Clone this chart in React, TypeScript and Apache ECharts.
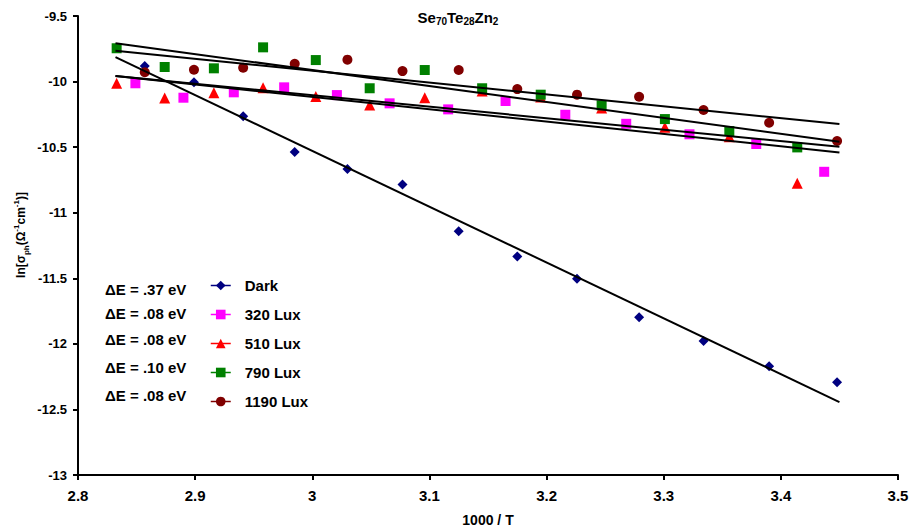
import React, { useEffect, useRef } from "react";
import * as echarts from "echarts";

const FONT = "Arial, 'Liberation Sans', Helvetica, sans-serif";

// Data (x = 1000/T, y = ln sigma_ph)
const darkX = [2.857, 2.899, 2.941, 2.985, 3.03, 3.077, 3.125, 3.175, 3.226, 3.279, 3.334, 3.39, 3.448];
const darkY = [-9.881, -10.006, -10.265, -10.537, -10.667, -10.784, -11.142, -11.333, -11.504, -11.798, -11.979, -12.17, -12.292];

const lux320X = [2.849, 2.89, 2.933, 2.976, 3.021, 3.066, 3.116, 3.165, 3.216, 3.268, 3.322, 3.379, 3.437];
const lux320Y = [-10.013, -10.123, -10.082, -10.044, -10.103, -10.166, -10.212, -10.148, -10.253, -10.322, -10.402, -10.476, -10.688];

const lux510X = [2.833, 2.874, 2.916, 2.958, 3.003, 3.049, 3.096, 3.145, 3.195, 3.247, 3.301, 3.356, 3.414];
const lux510Y = [-10.013, -10.125, -10.085, -10.047, -10.113, -10.179, -10.123, -10.072, -10.118, -10.202, -10.349, -10.421, -10.776];

const lux790X = [2.833, 2.874, 2.916, 2.958, 3.003, 3.049, 3.096, 3.145, 3.195, 3.247, 3.301, 3.356, 3.414];
const lux790Y = [-9.746, -9.889, -9.899, -9.739, -9.836, -10.051, -9.912, -10.051, -10.1, -10.181, -10.286, -10.377, -10.502];

const lux1190X = [2.857, 2.899, 2.941, 2.985, 3.03, 3.077, 3.125, 3.175, 3.226, 3.279, 3.334, 3.39, 3.448];
const lux1190Y = [-9.929, -9.91, -9.894, -9.864, -9.833, -9.92, -9.912, -10.057, -10.1, -10.116, -10.217, -10.314, -10.453];

// Linear fit lines (end points)
const fitX = [2.832, 3.45];
const fitDarkY = [-9.813, -12.444];
const fit320Y = [-9.958, -10.54];
const fit510Y = [-9.958, -10.497];
const fit790Y = [-9.708, -10.459];
const fit1190Y = [-9.765, -10.324];

const seriesNames = ["Dark", "320 Lux", "510 Lux", "790 Lux", "1190 Lux"];
const activationEnergies = [".37", ".08", ".08", ".10", ".08"];

const fmt = (v: number) => String(+Number(v).toFixed(2));

export default function App() {
  const ref = useRef<HTMLDivElement>(null);

  useEffect(() => {
    if (!ref.current) return;
    const chart = echarts.init(ref.current, undefined, { renderer: "svg" });

    const dataSets = [
      { name: seriesNames[0], x: darkX, y: darkY, color: "#000080", symbol: "diamond", size: 10 },
      { name: seriesNames[1], x: lux320X, y: lux320Y, color: "#FF00FF", symbol: "rect", size: 10 },
      { name: seriesNames[2], x: lux510X, y: lux510Y, color: "#FF0000", symbol: "triangle", size: 11 },
      { name: seriesNames[3], x: lux790X, y: lux790Y, color: "#008000", symbol: "rect", size: 10 },
      { name: seriesNames[4], x: lux1190X, y: lux1190Y, color: "#800000", symbol: "circle", size: 10 },
    ];
    const fits = [
      { name: "Dark fit", y: fitDarkY },
      { name: "320 Lux fit", y: fit320Y },
      { name: "510 Lux fit", y: fit510Y },
      { name: "790 Lux fit", y: fit790Y },
      { name: "1190 Lux fit", y: fit1190Y },
    ];

    const sub = { fontSize: 10, fontWeight: "bold", fontFamily: FONT, lineHeight: 13, verticalAlign: "bottom", fill: "#000" };
    const sup = { fontSize: 8, fontWeight: "bold", fontFamily: FONT, lineHeight: 10, verticalAlign: "top", fill: "#000" };

    const option: any = {
      animation: false,
      backgroundColor: "#ffffff",
      grid: { left: 78, right: 14, top: 16, bottom: 57, containLabel: false, outerBoundsMode: "none" },
      xAxis: {
        type: "value",
        min: 2.8,
        max: 3.5,
        interval: 0.1,
        name: "1000 / T",
        nameLocation: "middle",
        nameGap: 38,
        nameTextStyle: { fontFamily: FONT, fontWeight: "bold", fontSize: 14, color: "#000" },
        axisLine: { show: true, onZero: false, lineStyle: { color: "#000", width: 2 } },
        axisTick: { show: true, inside: false, length: 5, lineStyle: { color: "#000", width: 2 } },
        axisLabel: { fontFamily: FONT, fontWeight: "bold", fontSize: 15, color: "#000", margin: 13, formatter: fmt },
        splitLine: { show: false },
      },
      yAxis: {
        type: "value",
        min: -13,
        max: -9.5,
        interval: 0.5,
        axisLine: { show: true, onZero: false, lineStyle: { color: "#000", width: 2 } },
        axisTick: { show: true, inside: false, length: 5, lineStyle: { color: "#000", width: 2 } },
        axisLabel: { fontFamily: FONT, fontWeight: "bold", fontSize: 13, color: "#000", margin: 11, formatter: fmt },
        splitLine: { show: false },
      },
      legend: {
        orient: "vertical",
        left: 210,
        top: 277,
        padding: 0,
        itemWidth: 20,
        itemHeight: 12,
        itemGap: 12,
        selectedMode: false,
        data: seriesNames,
        lineStyle: { width: 1.5, opacity: 1 },
        textStyle: { fontFamily: FONT, fontWeight: "bold", fontSize: 15, color: "#000", lineHeight: 17, padding: [0, 0, 0, 9] },
      },
      graphic: [
        {
          type: "text",
          x: 458,
          y: 17,
          style: {
            text: "{m|Se}{s|70}{m|Te}{s|28}{m|Zn}{s|2}",
            align: "center",
            verticalAlign: "middle",
            rich: {
              m: { fontSize: 15, fontWeight: "bold", fontFamily: FONT, lineHeight: 19, verticalAlign: "middle", fill: "#000" },
              s: sub,
            },
          },
        },
        {
          type: "text",
          x: 21,
          y: 235,
          rotation: Math.PI / 2,
          style: {
            text: "{m|ln[σ}{s|ph}{m|(Ω}{p|-1}{m|cm}{p|-1}{m|)]}",
            align: "center",
            verticalAlign: "middle",
            rich: {
              m: { fontSize: 12, fontWeight: "bold", fontFamily: FONT, lineHeight: 18, verticalAlign: "middle", fill: "#000" },
              s: { ...sub, fontSize: 8, lineHeight: 12 },
              p: sup,
            },
          },
        },
        ...activationEnergies.map((e, i) => ({
          type: "text",
          x: 105,
          y: [289, 313.5, 339, 367, 395.5][i],
          style: {
            text: `ΔE = ${e} eV`,
            fontFamily: FONT,
            fontWeight: "bold",
            fontSize: 15,
            fill: "#000",
            align: "left",
            verticalAlign: "middle",
          },
        })),
      ],
      series: [
        ...dataSets.map((s) => ({
          type: "line",
          name: s.name,
          data: s.x.map((v, i) => [v, s.y[i]]),
          symbol: s.symbol,
          symbolSize: s.size,
          showSymbol: true,
          color: s.color,
          itemStyle: { color: s.color },
          lineStyle: { width: 0, color: s.color },
          silent: true,
          z: 2,
        })),
        ...fits.map((f) => ({
          type: "line",
          name: f.name,
          data: fitX.map((v, i) => [v, f.y[i]]),
          symbol: "none",
          lineStyle: { color: "#000", width: 2 },
          silent: true,
          z: 3,
        })),
      ],
    };

    chart.setOption(option);
    return () => chart.dispose();
  }, []);

  return (
    <div
      ref={ref}
      style={{ position: "absolute", left: 0, top: 0, width: 912, height: 532, background: "#fff" }}
    />
  );
}
